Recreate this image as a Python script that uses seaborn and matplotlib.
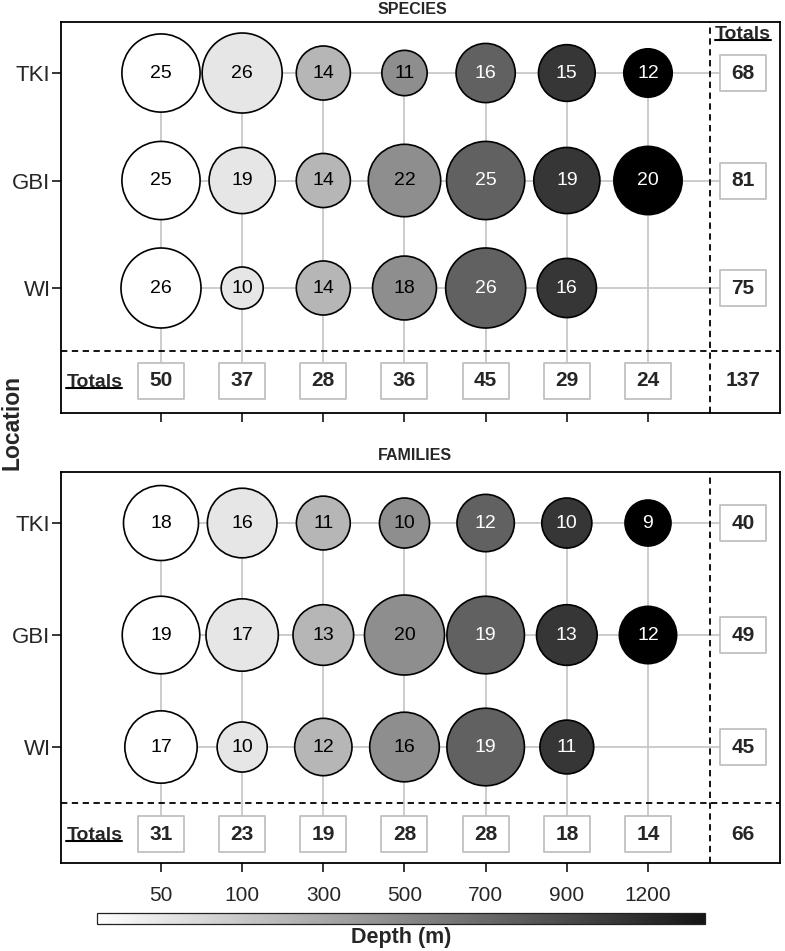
import numpy as np
import pandas as pd
import matplotlib
matplotlib.use("Agg")
import matplotlib.pyplot as plt
import seaborn as sns
from matplotlib.path import Path
from matplotlib.lines import Line2D
from matplotlib.colors import LinearSegmentedColormap
from matplotlib.cm import ScalarMappable

# data
depths = ["50", "100", "300", "500", "700", "900", "1200"]
locations = ["TKI", "GBI", "WI"]
depth_colors = ["#ffffff", "#e6e6e6", "#b6b6b6", "#8e8e8e", "#616161", "#363636", "#000000"]
label_colors = ["black", "black", "black", "black", "white", "white", "white"]

species_tki = [25, 26, 14, 11, 16, 15, 12]
species_gbi = [25, 19, 14, 22, 25, 19, 20]
species_wi = [26, 10, 14, 18, 26, 16, None]
species_row_totals = [68, 81, 75]
species_col_totals = [50, 37, 28, 36, 45, 29, 24]
species_grand = 137

families_tki = [18, 16, 11, 10, 12, 10, 9]
families_gbi = [19, 17, 13, 20, 19, 13, 12]
families_wi = [17, 10, 12, 16, 19, 11, None]
families_row_totals = [40, 49, 45]
families_col_totals = [31, 23, 19, 28, 28, 18, 14]
families_grand = 66

sns.set_style("white")
plt.rcParams["font.family"] = ["Liberation Sans", "DejaVu Sans"]

# layout (data units of the categorical grid)
XLIM = (-1.232, 7.626)
TOT_X = 7.17
VDASH_X = 6.764
LABEL_X = -0.82
GRID_COLOR = "#c8c8c8"
BOX_EDGE = "#c0c0c0"

box_marker = Path([(-1, -0.8), (1, -0.8), (1, 0.8), (-1, 0.8), (-1, -0.8)],
                  [Path.MOVETO, Path.LINETO, Path.LINETO, Path.LINETO, Path.CLOSEPOLY])
BOX_S = 33.1 ** 2

underline_targets = []


def long_frame(rows):
    recs = []
    for i, vals in enumerate(rows):
        for j, v in enumerate(vals):
            if v is None:
                continue
            recs.append({"location": locations[i], "depth": depths[j], "x": j, "y": i, "count": v})
    return pd.DataFrame(recs)


def draw_panel(ax, rows, row_totals, col_totals, grand, size_norm, sizes, ylim, tot_y, dash_y,
               header=False, show_xlabels=False):
    df = long_frame(rows)

    # connector grid
    for i in range(len(locations)):
        ax.plot([0, TOT_X], [i, i], color=GRID_COLOR, lw=1.3, zorder=1)
    for j in range(len(depths)):
        ax.plot([j, j], [0, tot_y], color=GRID_COLOR, lw=1.3, zorder=1)

    sns.scatterplot(data=df, x="x", y="y", hue="depth", hue_order=depths,
                    palette=dict(zip(depths, depth_colors)), size="count",
                    sizes=sizes, size_norm=size_norm, edgecolor="black",
                    linewidth=1.2, legend=False, ax=ax, zorder=3)

    for _, r in df.iterrows():
        ax.text(r["x"], r["y"], str(r["count"]), ha="center", va="center",
                fontsize=14, color=label_colors[r["x"]], zorder=5)

    # totals boxes
    ax.scatter(range(len(depths)), [tot_y] * len(depths), marker=box_marker, s=BOX_S,
               facecolor="white", edgecolor=BOX_EDGE, linewidth=1.3, zorder=4)
    ax.scatter([TOT_X] * len(locations), range(len(locations)), marker=box_marker, s=BOX_S,
               facecolor="white", edgecolor=BOX_EDGE, linewidth=1.3, zorder=4)
    for j, v in enumerate(col_totals):
        ax.text(j, tot_y, str(v), ha="center", va="center", fontsize=15,
                fontweight="bold", zorder=5)
    for i, v in enumerate(row_totals):
        ax.text(TOT_X, i, str(v), ha="center", va="center", fontsize=15,
                fontweight="bold", zorder=5)
    ax.text(TOT_X, tot_y, str(grand), ha="center", va="center", fontsize=15,
            fontweight="bold", zorder=5)

    t = ax.text(LABEL_X, tot_y + 0.01, "Totals", ha="center", va="center", fontsize=14,
                fontweight="bold", zorder=5)
    underline_targets.append(t)
    if header:
        t = ax.text(TOT_X, -0.36, "Totals", ha="center", va="center", fontsize=14,
                    fontweight="bold", zorder=5)
        underline_targets.append(t)

    ax.axhline(dash_y, color="black", ls=(0, (3.5, 2.5)), lw=1.3, zorder=2)
    ax.axvline(VDASH_X, color="black", ls=(0, (3.5, 2.5)), lw=1.3, zorder=2)

    ax.set_xlim(*XLIM)
    ax.set_ylim(*ylim)
    ax.set_xticks(range(len(depths)))
    ax.set_xticklabels(depths if show_xlabels else [])
    ax.set_yticks(range(len(locations)))
    ax.set_yticklabels(locations)
    ax.set_xlabel("")
    ax.set_ylabel("")
    ax.tick_params(axis="both", which="both", direction="out", length=6.5, width=1.1,
                   color="black", bottom=True, left=True)
    ax.tick_params(axis="x", labelsize=15, pad=10)
    ax.tick_params(axis="y", labelsize=16, pad=1)
    for sp in ax.spines.values():
        sp.set_visible(True)
        sp.set_color("black")
        sp.set_linewidth(1.3)


fig = plt.figure(figsize=(7.85, 9.51), dpi=100)
ax_top = fig.add_axes([0.0777, 0.5657, 0.9159, 0.4111])
ax_bot = fig.add_axes([0.0777, 0.0925, 0.9159, 0.4111])

draw_panel(ax_top, [species_tki, species_gbi, species_wi], species_row_totals,
           species_col_totals, species_grand, size_norm=(10, 26), sizes=(914, 3318),
           ylim=(3.163, -0.474), tot_y=2.865, dash_y=2.586, header=True)
draw_panel(ax_bot, [families_tki, families_gbi, families_wi], families_row_totals,
           families_col_totals, families_grand, size_norm=(9, 20), sizes=(1097, 3318),
           ylim=(3.036, -0.455), tot_y=2.777, dash_y=2.5, show_xlabels=True)

fig.text(412 / 785, 1 - 10 / 951, "SPECIES", ha="center", va="center", fontsize=11.5,
         fontweight="bold")
fig.text(415 / 785, 1 - 455 / 951, "FAMILIES", ha="center", va="center", fontsize=11.5,
         fontweight="bold")
fig.text(12.5 / 785, 1 - 422 / 951, "Location", rotation=90, ha="center", va="center",
         fontsize=16.5, fontweight="bold")

# depth colour bar
cmap = LinearSegmentedColormap.from_list("depth", ["#ffffff", "#151515"])
cax = fig.add_axes([97 / 785, 0.02839, 608 / 785, 0.01157])
cb = fig.colorbar(ScalarMappable(cmap=cmap), cax=cax, orientation="horizontal")
cb.set_ticks([])
cb.outline.set_linewidth(0.9)
cb.outline.set_edgecolor("#222222")
fig.text(401 / 785, 1 - 937 / 951, "Depth (m)", ha="center", va="center", fontsize=15.5,
         fontweight="bold")

# underline the "Totals" labels
fig.canvas.draw()
renderer = fig.canvas.get_renderer()
inv = fig.transFigure.inverted()
for t in underline_targets:
    bb = t.get_window_extent(renderer)
    (x0, y0), (x1, _) = inv.transform([(bb.x0, bb.y0 + 3), (bb.x1, bb.y0 + 3)])
    fig.add_artist(Line2D([x0, x1], [y0, y0], transform=fig.transFigure, color="black", lw=1.5))

fig.savefig("out.png", dpi=100)
